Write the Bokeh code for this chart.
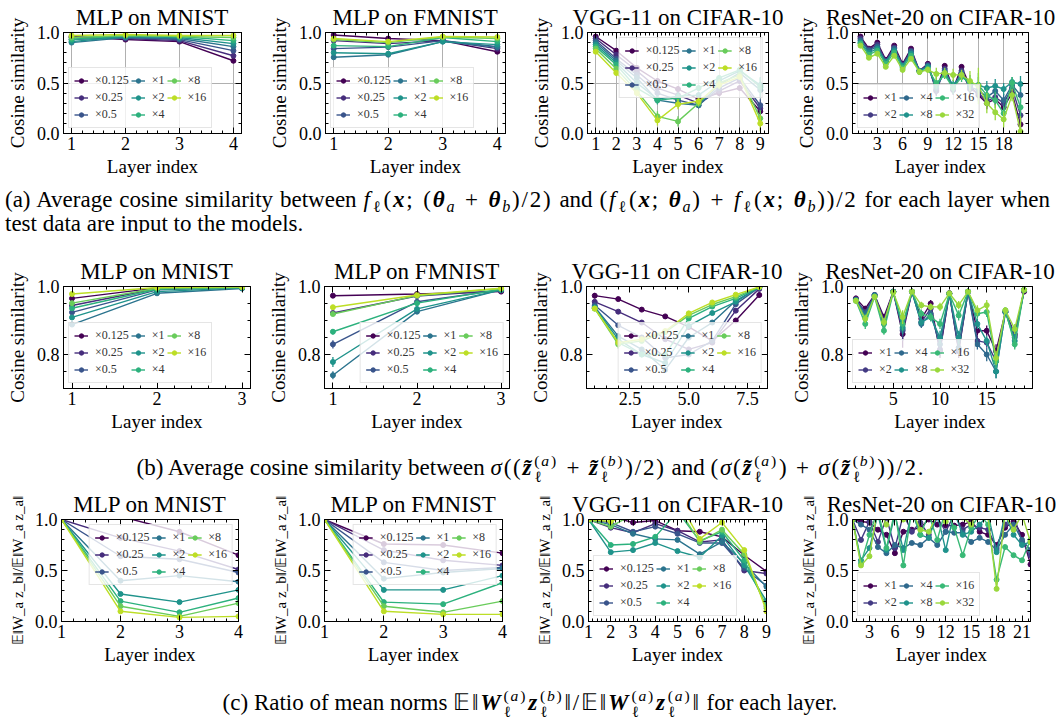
from bokeh.plotting import figure
from bokeh.models import (LinearAxis, SingleIntervalTicker, Range1d, Legend, LegendItem,
                          ColumnDataSource, Div, PrintfTickFormatter)
from bokeh.layouts import column, row
from bokeh.palettes import Viridis256
from bokeh.embed import file_html
from bokeh.resources import INLINE

FONT = "serif"
HTML_FONT = "'Liberation Serif', serif"

# ---------------------------------------------------------------- data
MLP_SCALES = ["×0.125", "×0.25", "×0.5", "×1", "×2", "×4", "×8", "×16"]
RES_SCALES = ["×1", "×2", "×4", "×8", "×16", "×32"]

A_MLP_LAYERS = [1, 2, 3, 4]
A_VGG_LAYERS = [1, 2, 3, 4, 5, 6, 7, 8, 9]
A_RES_LAYERS = list(range(1, 21))
B_MLP_LAYERS = [1, 2, 3]
B_VGG_LAYERS = [1, 2, 3, 4, 5, 6, 7, 8]
B_RES_LAYERS = list(range(1, 20))
C_MLP_LAYERS = [1, 2, 3, 4]
C_VGG_LAYERS = [1, 2, 3, 4, 5, 6, 7, 8, 9]
C_RES_LAYERS = list(range(1, 23))

# (a) cosine similarity of features
A_MNIST = [
    [0.96, 0.93, 0.91, 0.72],
    [0.95, 0.94, 0.92, 0.77],
    [0.93, 0.95, 0.93, 0.82],
    [0.90, 0.95, 0.94, 0.86],
    [0.91, 0.96, 0.95, 0.89],
    [0.93, 0.97, 0.96, 0.92],
    [0.95, 0.97, 0.96, 0.95],
    [0.97, 0.98, 0.97, 0.97],
]
A_MNIST_ERR = [
    [0.01, 0.01, 0.01, 0.01], [0.01, 0.01, 0.01, 0.01], [0.01, 0.01, 0.01, 0.01],
    [0.01, 0.01, 0.01, 0.01], [0.01, 0.01, 0.01, 0.01], [0.01, 0.01, 0.01, 0.01],
    [0.01, 0.01, 0.01, 0.01], [0.01, 0.01, 0.01, 0.01],
]
A_FMNIST = [
    [0.975, 0.94, 0.92, 0.81],
    [0.92, 0.89, 0.92, 0.84],
    [0.84, 0.855, 0.92, 0.86],
    [0.755, 0.78, 0.91, 0.855],
    [0.80, 0.79, 0.91, 0.88],
    [0.87, 0.86, 0.95, 0.91],
    [0.93, 0.90, 0.955, 0.94],
    [0.94, 0.91, 0.96, 0.955],
]
A_FMNIST_ERR = [
    [0.01, 0.01, 0.01, 0.01], [0.01, 0.01, 0.01, 0.01], [0.01, 0.01, 0.01, 0.01],
    [0.015, 0.01, 0.01, 0.01], [0.015, 0.01, 0.01, 0.01], [0.01, 0.01, 0.01, 0.01],
    [0.01, 0.01, 0.01, 0.01], [0.01, 0.01, 0.01, 0.01],
]
A_VGG = [
    [0.96, 0.82, 0.65, 0.52, 0.44, 0.34, 0.40, 0.45, 0.22],
    [0.94, 0.78, 0.62, 0.45, 0.38, 0.30, 0.42, 0.52, 0.25],
    [0.92, 0.74, 0.58, 0.40, 0.33, 0.28, 0.45, 0.55, 0.28],
    [0.90, 0.72, 0.55, 0.33, 0.30, 0.28, 0.48, 0.60, 0.43],
    [0.88, 0.70, 0.50, 0.34, 0.37, 0.38, 0.52, 0.62, 0.48],
    [0.86, 0.68, 0.45, 0.33, 0.35, 0.45, 0.55, 0.63, 0.46],
    [0.84, 0.64, 0.42, 0.17, 0.12, 0.30, 0.50, 0.58, 0.15],
    [0.81, 0.60, 0.40, 0.13, 0.29, 0.32, 0.48, 0.56, 0.10],
]
A_VGG_ERR = [
    [0.01, 0.02, 0.02, 0.03, 0.03, 0.03, 0.03, 0.03, 0.05],
    [0.01, 0.02, 0.02, 0.03, 0.03, 0.03, 0.03, 0.03, 0.05],
    [0.01, 0.02, 0.02, 0.04, 0.03, 0.03, 0.03, 0.03, 0.06],
    [0.02, 0.02, 0.03, 0.04, 0.04, 0.03, 0.03, 0.03, 0.08],
    [0.02, 0.02, 0.03, 0.04, 0.04, 0.03, 0.03, 0.03, 0.08],
    [0.02, 0.02, 0.03, 0.04, 0.04, 0.03, 0.03, 0.03, 0.09],
    [0.02, 0.03, 0.03, 0.05, 0.05, 0.04, 0.04, 0.03, 0.08],
    [0.02, 0.03, 0.03, 0.05, 0.05, 0.04, 0.04, 0.03, 0.08],
]
A_RES = [
    [0.96, 0.84, 0.90, 0.73, 0.87, 0.69, 0.84, 0.62, 0.69, 0.43, 0.67, 0.44, 0.66, 0.47, 0.38, 0.30, 0.34, 0.26, 0.40, 0.09],
    [0.94, 0.83, 0.88, 0.72, 0.85, 0.68, 0.82, 0.62, 0.68, 0.42, 0.64, 0.43, 0.62, 0.44, 0.40, 0.32, 0.36, 0.30, 0.45, 0.18],
    [0.92, 0.82, 0.86, 0.71, 0.84, 0.67, 0.81, 0.62, 0.67, 0.45, 0.62, 0.45, 0.60, 0.46, 0.43, 0.36, 0.42, 0.33, 0.48, 0.38],
    [0.90, 0.80, 0.84, 0.71, 0.82, 0.67, 0.79, 0.62, 0.66, 0.47, 0.60, 0.48, 0.58, 0.49, 0.48, 0.45, 0.47, 0.44, 0.51, 0.49],
    [0.89, 0.78, 0.82, 0.69, 0.80, 0.65, 0.77, 0.61, 0.64, 0.50, 0.58, 0.45, 0.56, 0.50, 0.48, 0.38, 0.33, 0.20, 0.50, 0.26],
    [0.87, 0.75, 0.79, 0.66, 0.77, 0.63, 0.74, 0.61, 0.63, 0.59, 0.60, 0.58, 0.58, 0.52, 0.47, 0.30, 0.21, 0.14, 0.38, 0.02],
]
A_RES_ERR = [
    [0.01, 0.01, 0.01, 0.02, 0.01, 0.02, 0.01, 0.02, 0.02, 0.05, 0.02, 0.05, 0.02, 0.05, 0.06, 0.06, 0.06, 0.06, 0.05, 0.08],
    [0.01, 0.01, 0.01, 0.02, 0.01, 0.02, 0.01, 0.02, 0.02, 0.05, 0.02, 0.05, 0.03, 0.05, 0.06, 0.06, 0.06, 0.06, 0.05, 0.08],
    [0.01, 0.01, 0.01, 0.02, 0.02, 0.02, 0.02, 0.02, 0.02, 0.05, 0.03, 0.05, 0.03, 0.06, 0.07, 0.07, 0.06, 0.06, 0.05, 0.08],
    [0.01, 0.02, 0.02, 0.02, 0.02, 0.02, 0.02, 0.02, 0.02, 0.05, 0.03, 0.05, 0.04, 0.06, 0.08, 0.07, 0.07, 0.06, 0.05, 0.08],
    [0.01, 0.02, 0.02, 0.02, 0.02, 0.03, 0.02, 0.03, 0.03, 0.06, 0.04, 0.06, 0.05, 0.08, 0.12, 0.08, 0.08, 0.07, 0.06, 0.10],
    [0.01, 0.02, 0.02, 0.02, 0.02, 0.03, 0.02, 0.03, 0.03, 0.06, 0.05, 0.06, 0.05, 0.10, 0.18, 0.10, 0.08, 0.08, 0.06, 0.15],
]

# (b) cosine similarity of activations
B_MNIST = [
    [0.965, 0.996, 0.998],
    [0.944, 0.994, 0.998],
    [0.924, 0.990, 0.997],
    [0.888, 0.980, 0.994],
    [0.909, 0.985, 0.996],
    [0.936, 0.992, 0.997],
    [0.951, 0.995, 0.998],
    [0.978, 0.997, 0.999],
]
B_MNIST_ERR = [
    [0.003, 0.002, 0.001], [0.003, 0.002, 0.001], [0.003, 0.002, 0.001], [0.004, 0.003, 0.002],
    [0.004, 0.003, 0.002], [0.003, 0.002, 0.001], [0.003, 0.002, 0.001], [0.003, 0.002, 0.001],
]
B_FMNIST = [
    [0.973, 0.978, 0.985],
    [0.922, 0.972, 0.988],
    [0.830, 0.955, 0.990],
    [0.739, 0.926, 0.990],
    [0.778, 0.934, 0.990],
    [0.867, 0.951, 0.992],
    [0.919, 0.973, 0.994],
    [0.939, 0.975, 0.995],
]
B_FMNIST_ERR = [
    [0.003, 0.003, 0.002], [0.005, 0.003, 0.002], [0.012, 0.004, 0.002], [0.012, 0.005, 0.002],
    [0.015, 0.005, 0.002], [0.008, 0.004, 0.002], [0.006, 0.003, 0.002], [0.005, 0.003, 0.002],
]
B_VGG = [
    [0.973, 0.963, 0.932, 0.912, 0.881, 0.840, 0.900, 0.975],
    [0.955, 0.926, 0.894, 0.845, 0.815, 0.835, 0.929, 0.993],
    [0.945, 0.886, 0.850, 0.790, 0.800, 0.840, 0.948, 0.997],
    [0.940, 0.854, 0.815, 0.755, 0.850, 0.894, 0.958, 0.998],
    [0.938, 0.845, 0.800, 0.775, 0.884, 0.922, 0.955, 0.998],
    [0.936, 0.835, 0.800, 0.800, 0.906, 0.941, 0.965, 0.998],
    [0.935, 0.830, 0.840, 0.866, 0.915, 0.947, 0.970, 0.998],
    [0.935, 0.835, 0.845, 0.869, 0.921, 0.953, 0.976, 0.999],
]
B_VGG_ERR = [
    [0.008, 0.004, 0.004, 0.004, 0.004, 0.005, 0.005, 0.008],
    [0.006, 0.004, 0.004, 0.005, 0.005, 0.005, 0.007, 0.003],
    [0.006, 0.006, 0.005, 0.006, 0.006, 0.006, 0.004, 0.002],
    [0.006, 0.008, 0.006, 0.006, 0.006, 0.005, 0.004, 0.002],
    [0.006, 0.010, 0.006, 0.006, 0.005, 0.005, 0.004, 0.002],
    [0.006, 0.010, 0.006, 0.006, 0.005, 0.004, 0.004, 0.002],
    [0.006, 0.012, 0.006, 0.005, 0.004, 0.004, 0.004, 0.002],
    [0.006, 0.012, 0.006, 0.005, 0.004, 0.004, 0.004, 0.002],
]
B_RES = [
    [0.965, 0.935, 0.975, 0.910, 0.985, 0.860, 0.985, 0.905, 0.950, 0.810, 0.980, 0.810, 0.985, 0.870, 0.870, 0.810, 0.925, 0.860, 0.985],
    [0.962, 0.925, 0.975, 0.900, 0.985, 0.870, 0.985, 0.895, 0.935, 0.815, 0.980, 0.815, 0.985, 0.840, 0.835, 0.780, 0.925, 0.855, 0.990],
    [0.960, 0.920, 0.975, 0.895, 0.985, 0.875, 0.985, 0.890, 0.920, 0.830, 0.980, 0.820, 0.985, 0.830, 0.800, 0.750, 0.925, 0.850, 0.990],
    [0.960, 0.910, 0.972, 0.890, 0.985, 0.880, 0.985, 0.895, 0.910, 0.850, 0.978, 0.850, 0.985, 0.890, 0.840, 0.750, 0.925, 0.840, 0.990],
    [0.958, 0.890, 0.970, 0.870, 0.983, 0.890, 0.985, 0.920, 0.910, 0.890, 0.978, 0.915, 0.985, 0.920, 0.925, 0.780, 0.930, 0.830, 0.990],
    [0.958, 0.905, 0.970, 0.895, 0.983, 0.910, 0.985, 0.945, 0.940, 0.940, 0.980, 0.945, 0.985, 0.930, 0.945, 0.790, 0.930, 0.875, 0.990],
]
B_RES_ERR = [
    [0.008, 0.008, 0.005, 0.010, 0.004, 0.040, 0.004, 0.012, 0.010, 0.020, 0.005, 0.020, 0.004, 0.015, 0.015, 0.020, 0.010, 0.020, 0.006],
    [0.008, 0.008, 0.005, 0.010, 0.004, 0.030, 0.004, 0.012, 0.012, 0.020, 0.005, 0.020, 0.004, 0.015, 0.015, 0.020, 0.010, 0.020, 0.005],
    [0.008, 0.010, 0.005, 0.010, 0.004, 0.020, 0.004, 0.012, 0.012, 0.020, 0.005, 0.020, 0.004, 0.015, 0.020, 0.020, 0.010, 0.020, 0.005],
    [0.008, 0.010, 0.005, 0.010, 0.004, 0.020, 0.004, 0.012, 0.012, 0.020, 0.005, 0.020, 0.004, 0.015, 0.015, 0.020, 0.010, 0.020, 0.005],
    [0.008, 0.015, 0.005, 0.012, 0.004, 0.020, 0.004, 0.012, 0.012, 0.015, 0.005, 0.015, 0.004, 0.015, 0.015, 0.020, 0.010, 0.015, 0.005],
    [0.008, 0.012, 0.005, 0.012, 0.004, 0.020, 0.004, 0.010, 0.010, 0.012, 0.005, 0.012, 0.004, 0.015, 0.015, 0.020, 0.010, 0.015, 0.005],
]

# (c) ratio of mean norms
C_MNIST = [
    [1.0, 1.03, 0.88, 0.65],
    [1.0, 0.82, 0.69, 0.51],
    [1.0, 0.64, 0.61, 0.48],
    [1.0, 0.40, 0.45, 0.39],
    [1.0, 0.27, 0.19, 0.31],
    [1.0, 0.20, 0.09, 0.23],
    [1.0, 0.15, 0.05, 0.18],
    [1.0, 0.10, 0.04, 0.05],
]
C_FMNIST = [
    [1.0, 0.76, 0.75, 0.67],
    [1.0, 0.70, 0.60, 0.55],
    [1.0, 0.58, 0.50, 0.53],
    [1.0, 0.42, 0.48, 0.52],
    [1.0, 0.31, 0.31, 0.45],
    [1.0, 0.19, 0.17, 0.38],
    [1.0, 0.15, 0.09, 0.20],
    [1.0, 0.10, 0.07, 0.07],
]
C_VGG = [
    [1.0, 1.03, 0.97, 0.99, 0.89, 0.88, 0.83, 0.65, 0.49],
    [1.0, 0.92, 0.87, 0.96, 0.89, 0.78, 0.80, 0.50, 0.47],
    [1.0, 0.97, 0.88, 0.93, 0.86, 0.77, 0.77, 0.52, 0.35],
    [1.0, 0.95, 0.86, 0.81, 0.80, 0.66, 0.78, 0.57, 0.34],
    [1.0, 0.68, 0.70, 0.77, 0.69, 0.63, 0.84, 0.55, 0.20],
    [1.0, 0.75, 0.76, 0.83, 1.08, 0.79, 0.88, 0.60, 0.15],
    [1.0, 0.93, 1.05, 1.06, 1.12, 0.78, 0.90, 0.66, 0.13],
    [1.0, 0.98, 1.06, 1.10, 1.20, 0.81, 0.97, 0.70, 0.10],
]
C_RES = [
    [1.0, 0.98, 0.97, 0.90, 0.85, 0.67, 0.88, 0.90, 0.92, 1.00, 0.95, 0.94, 0.94, 0.95, 0.98, 0.88, 0.85, 0.75, 0.92, 0.98, 0.85, 0.56],
    [1.0, 0.80, 0.98, 0.78, 1.02, 0.72, 1.05, 0.88, 0.97, 0.85, 1.02, 0.88, 1.05, 0.90, 0.95, 0.92, 0.90, 0.72, 0.95, 1.05, 0.78, 0.65],
    [1.0, 0.95, 0.90, 0.73, 0.67, 0.75, 0.72, 0.77, 0.75, 0.82, 0.75, 0.88, 0.87, 0.87, 0.78, 0.82, 0.78, 0.70, 0.85, 0.95, 0.80, 0.70],
    [1.0, 0.60, 0.72, 1.05, 0.70, 1.05, 0.70, 1.08, 0.85, 0.82, 1.05, 0.70, 1.08, 0.85, 0.88, 0.95, 1.05, 0.68, 1.05, 0.85, 0.75, 0.78],
    [1.0, 0.57, 0.85, 1.10, 0.72, 1.08, 0.55, 1.10, 0.85, 1.05, 0.80, 1.10, 0.92, 0.65, 0.92, 1.05, 0.95, 0.41, 0.73, 0.65, 0.60, 0.80],
    [1.0, 0.55, 0.64, 1.12, 0.95, 1.10, 1.00, 1.10, 0.90, 0.88, 1.05, 0.98, 1.08, 1.02, 0.95, 1.10, 1.02, 0.32, 1.05, 0.90, 1.05, 0.78],
]

TITLES = ["MLP on MNIST", "MLP on FMNIST", "VGG-11 on CIFAR-10", "ResNet-20 on CIFAR-10"]
XLABEL = "Layer index"
YLABEL_COS = "Cosine similarity"
YLABEL_NORM = "𝔼‖W_a z_b‖/𝔼‖W_a z_a‖"


# ---------------------------------------------------------------- helpers
def viridis(n, top):
    return [Viridis256[round(top * 255 * i / (n - 1))] for i in range(n)]


MLP_COLORS = viridis(8, 0.9)
RES_COLORS = viridis(6, 0.85)


def style_axis(ax):
    ax.major_tick_in = 6
    ax.major_tick_out = 0
    ax.minor_tick_in = 3
    ax.minor_tick_out = 0
    ax.major_tick_line_color = "black"
    ax.minor_tick_line_color = "black"
    ax.axis_line_color = "black"
    ax.major_label_text_font = FONT
    ax.major_label_text_font_size = "18px"
    ax.major_label_text_color = "black"
    ax.major_label_standoff = 3
    ax.axis_label_text_font = FONT
    ax.axis_label_text_font_style = "normal"
    ax.axis_label_text_color = "black"
    ax.axis_label_text_font_size = "19px"
    ax.axis_label_standoff = 3


def panel(title, xs, series, errs, labels, colors, size, borders, xr, yr, xtick, ytick,
          ylabel, grid, loc, ylabel_size="19px", xfmt=None):
    w, h = size
    bl, br, bt, bb = borders
    p = figure(width=w, height=h, x_range=Range1d(*xr), y_range=Range1d(*yr),
               output_backend="svg", toolbar_location=None,
               min_border_left=bl, min_border_right=br, min_border_top=bt, min_border_bottom=bb,
               background_fill_color="white", border_fill_color="white")
    p.outline_line_color = "black"
    p.outline_line_width = 1
    p.title.text = title
    p.title.text_font = FONT
    p.title.text_font_size = "23px"
    p.title.text_font_style = "normal"
    p.title.text_color = "black"
    p.title.align = "center"
    p.title.standoff = 5

    xt = SingleIntervalTicker(interval=xtick[0], num_minor_ticks=xtick[1])
    yt = SingleIntervalTicker(interval=ytick[0], num_minor_ticks=ytick[1])
    p.xaxis.ticker = xt
    p.yaxis.ticker = yt
    p.yaxis.formatter = PrintfTickFormatter(format="%.1f")
    if xfmt:
        p.xaxis.formatter = PrintfTickFormatter(format=xfmt)
    p.xaxis.axis_label = XLABEL
    p.yaxis.axis_label = ylabel
    for ax in list(p.xaxis) + list(p.yaxis):
        style_axis(ax)
    p.yaxis.axis_label_text_font_size = ylabel_size
    p.yaxis.axis_label_standoff = 6
    p.yaxis.major_label_standoff = 4
    for side, t in (("above", xt), ("right", yt)):
        ax = LinearAxis(ticker=t)
        style_axis(ax)
        ax.major_label_text_font_size = "1px"
        ax.major_label_text_color = None
        ax.major_label_standoff = 0
        p.add_layout(ax, side)

    p.xgrid.ticker = xt
    p.ygrid.ticker = yt
    if grid:
        p.xgrid.grid_line_color = "#b0b0b0"
        p.ygrid.grid_line_color = "#b0b0b0"
        p.xgrid.grid_line_width = 1
        p.ygrid.grid_line_width = 1
    else:
        p.xgrid.grid_line_color = None
        p.ygrid.grid_line_color = None

    items = []
    for k, ys in enumerate(series):
        c = colors[k]
        x = xs[:len(ys)]
        rends = []
        if errs is not None:
            e = errs[k]
            src = ColumnDataSource(dict(x=x, lo=[a - b for a, b in zip(ys, e)],
                                        hi=[a + b for a, b in zip(ys, e)]))
            p.segment(x0="x", y0="lo", x1="x", y1="hi", source=src, line_color=c, line_width=1.3)
        rl = p.line(x, ys, line_color=c, line_width=1.4)
        rends.append(rl)
        if errs is not None:
            rv = p.vspan(x=[], line_color=c, line_width=1.6)
            rends.append(rv)
        rd = p.scatter(x, ys, marker="circle", size=5, fill_color=c, line_color=c)
        rends.append(rd)
        items.append(LegendItem(label=labels[k], renderers=rends))

    leg = Legend(items=items, location=loc, ncols=3, orientation="vertical",
                 label_text_font=FONT, label_text_font_size="12px", label_text_color="#333333",
                 glyph_width=14, glyph_height=11, label_height=15, label_width=0,
                 label_standoff=7, spacing=2, padding=5, margin=5,
                 border_line_color="#cccccc", border_line_width=1,
                 background_fill_color="white", background_fill_alpha=0.8)
    p.add_layout(leg)
    return p


# ---------------------------------------------------------------- row (a)
A_H = 180
a1 = panel(TITLES[0], A_MLP_LAYERS, A_MNIST, A_MNIST_ERR, MLP_SCALES, MLP_COLORS,
           (262, A_H), (63, 21, 32, 47), (0.85, 4.15), (0, 1), (1, 5), (0.5, 5),
           YLABEL_COS, True, "bottom_left")
a2 = panel(TITLES[1], A_MLP_LAYERS, A_FMNIST, A_FMNIST_ERR, MLP_SCALES, MLP_COLORS,
           (262, A_H), (63, 19, 32, 47), (0.85, 4.15), (0, 1), (1, 5), (0.5, 5),
           YLABEL_COS, True, "bottom_left")
a3 = panel(TITLES[2], A_VGG_LAYERS, A_VGG, A_VGG_ERR, MLP_SCALES, MLP_COLORS,
           (265, A_H), (63, 21, 32, 47), (0.6, 9.4), (0, 1), (1, 5), (0.5, 5),
           YLABEL_COS, True, "top_right")
a4 = panel(TITLES[3], A_RES_LAYERS, A_RES, A_RES_ERR, RES_SCALES, RES_COLORS,
           (271, A_H), (63, 32, 32, 47), (0.05, 20.95), (0, 1), (3, 4), (0.5, 5),
           YLABEL_COS, True, "bottom_left")

# ---------------------------------------------------------------- row (b)
B_H = 203
b1 = panel(TITLES[0], B_MLP_LAYERS, B_MNIST, B_MNIST_ERR, MLP_SCALES, MLP_COLORS,
           (261, B_H), (63, 11, 54, 47), (0.9, 3.1), (0.7, 1.0), (1, 5), (0.2, 4),
           YLABEL_COS, False, "bottom_left")
b2 = panel(TITLES[1], B_MLP_LAYERS, B_FMNIST, B_FMNIST_ERR, MLP_SCALES, MLP_COLORS,
           (262, B_H), (63, 14, 54, 47), (0.9, 3.1), (0.7, 1.0), (1, 5), (0.2, 4),
           YLABEL_COS, False, "bottom_right")
b3 = panel(TITLES[2], B_VGG_LAYERS, B_VGG, B_VGG_ERR, MLP_SCALES, MLP_COLORS,
           (261, B_H), (63, 17, 54, 47), (0.65, 8.35), (0.7, 1.0), (2.5, 5), (0.2, 4),
           YLABEL_COS, False, "bottom_right", xfmt="%.1f")
b4 = panel(TITLES[3], B_RES_LAYERS, B_RES, B_RES_ERR, RES_SCALES, RES_COLORS,
           (276, B_H), (63, 28, 54, 47), (0.1, 19.9), (0.7, 1.0), (5, 5), (0.2, 4),
           YLABEL_COS, False, "bottom_left")

# ---------------------------------------------------------------- row (c)
C_H = 186
c1 = panel(TITLES[0], C_MLP_LAYERS, C_MNIST, None, MLP_SCALES, MLP_COLORS,
           (263, C_H), (61, 25, 37, 47), (1, 4), (0, 1), (1, 5), (0.5, 5),
           YLABEL_NORM, False, "top_right", "15px")
c2 = panel(TITLES[1], C_MLP_LAYERS, C_FMNIST, None, MLP_SCALES, MLP_COLORS,
           (264, C_H), (61, 25, 37, 47), (1, 4), (0, 1), (1, 5), (0.5, 5),
           YLABEL_NORM, False, "top_right", "15px")
c3 = panel(TITLES[2], C_VGG_LAYERS, C_VGG, None, MLP_SCALES, MLP_COLORS,
           (264, C_H), (61, 25, 37, 47), (1, 9), (0, 1), (1, 5), (0.5, 5),
           YLABEL_NORM, False, "bottom_left", "15px")
c4 = panel(TITLES[3], C_RES_LAYERS, C_RES, None, RES_SCALES, RES_COLORS,
           (269, C_H), (61, 30, 37, 47), (1, 22), (0, 1), (3, 4), (0.5, 5),
           YLABEL_NORM, False, "bottom_left", "15px")

# ---------------------------------------------------------------- captions
def sub(t):
    return f'<span style="font-size:70%;vertical-align:-0.3em;line-height:0">{t}</span>'


def subsup(sb, sp):
    return ('<span style="display:inline-block;vertical-align:-0.45em;font-size:68%;'
            f'line-height:1.0;text-align:left;margin-left:1px;margin-right:1px">{sp}<br>{sb}</span>')


def math(t):
    return f'<span style="letter-spacing:1.8px">{t}</span>'


BX = "<b><i>x</i></b>"
BT = "<b><i>θ</i></b>"
FL = "<i>f</i>" + sub("ℓ")
ZT = "<b><i>z̃</i></b>"
W = "<b><i>W</i></b>"
Z = "<b><i>z</i></b>"

CAP_A1 = ("(a) Average cosine similarity between "
          + math(f"{FL}({BX}; ({BT}{sub('<i>a</i>')} + {BT}{sub('<i>b</i>')})/2)")
          + " and "
          + math(f"({FL}({BX}; {BT}{sub('<i>a</i>')}) + {FL}({BX}; {BT}{sub('<i>b</i>')}))/2")
          + " for each layer when")
CAP_A2 = "test data are input to the models."
CAP_B = ("(b) Average cosine similarity between "
         + math(f"<i>σ</i>(({ZT}{subsup('ℓ', '(<i>a</i>)')} + {ZT}{subsup('ℓ', '(<i>b</i>)')})/2)")
         + " and "
         + math(f"(<i>σ</i>({ZT}{subsup('ℓ', '(<i>a</i>)')}) + <i>σ</i>({ZT}{subsup('ℓ', '(<i>b</i>)')}))/2")
         + ".")
CAP_C = ("(c) Ratio of mean norms "
         + math(f"𝔼‖{W}{subsup('ℓ', '(<i>a</i>)')}{Z}{subsup('ℓ', '(<i>b</i>)')}‖/"
                f"𝔼‖{W}{subsup('ℓ', '(<i>a</i>)')}{Z}{subsup('ℓ', '(<i>a</i>)')}‖")
         + " for each layer.")

BASE = f"font-family:{HTML_FONT};font-size:23px;line-height:24px;color:black;white-space:nowrap;"

da = Div(text=(f'<div style="{BASE}padding-top:8px;padding-left:5px;width:1050px">'
               f'<div style="text-align:justify;text-align-last:justify;white-space:normal">{CAP_A1}</div>'
               f'<div>{CAP_A2}</div></div>'),
         width=1060, height=52, margin=(0, 0, 0, 0))
db = Div(text=f'<div style="{BASE}padding-top:18px;text-align:center;width:1060px">{CAP_B}</div>',
         width=1060, height=47, margin=(0, 0, 0, 0))
dc = Div(text=f'<div style="{BASE}padding-top:20px;text-align:center;width:1060px">{CAP_C}</div>',
         width=1060, height=51, margin=(0, 0, 0, 0))

layout = column(
    row(a1, a2, a3, a4, spacing=0),
    da,
    row(b1, b2, b3, b4, spacing=0),
    db,
    row(c1, c2, c3, c4, spacing=0),
    dc,
    spacing=0,
)

open("out.html", "w").write(file_html(layout, INLINE))
